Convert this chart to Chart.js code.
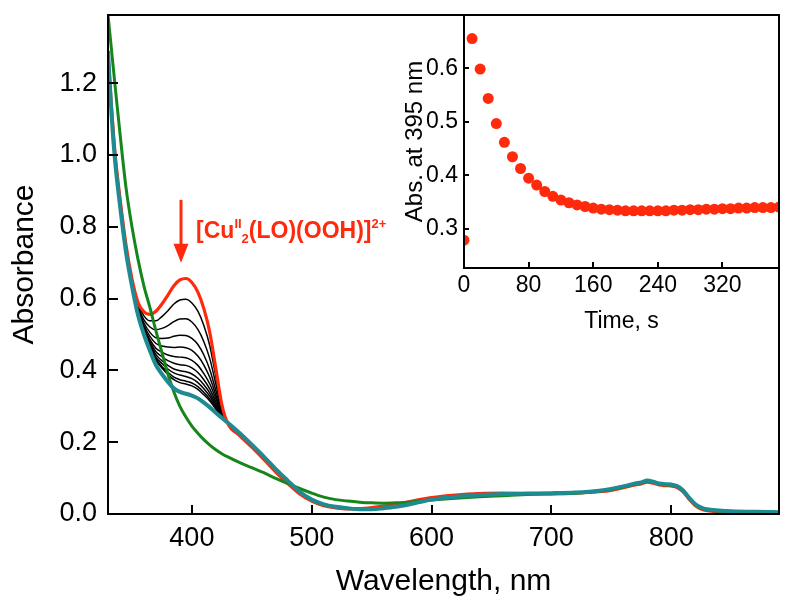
<!DOCTYPE html>
<html>
<head>
<meta charset="utf-8">
<script src="https://cdn.jsdelivr.net/npm/chart.js@4.4.1/dist/chart.umd.min.js"></script>
<style>
  body { margin: 0; background: #fff; }
  #wrap { position: relative; width: 795px; height: 612px; }
  #main { position: absolute; left: 0; top: 0; }
  #inset { position: absolute; left: 395px; top: 0; }
</style>
</head>
<body>
<div id="wrap">
  <canvas id="main" width="795" height="612"></canvas>
  <canvas id="inset" width="400" height="345"></canvas>
</div>
<script>
// wavelength grid (nm) shared by every spectrum
const wavelength = [330, 333, 336, 340, 345, 350,
  355, 360, 365, 370, 375, 380, 385, 390, 395, 400, 405, 410, 415, 420, 425, 430,
  440, 450, 460, 470, 480, 490, 500, 510, 520, 530, 540, 550, 560, 570, 580, 590, 600,
  620, 640, 660, 680, 700, 720, 740, 750, 760, 770, 775, 780, 785, 790, 795, 800, 805,
  810, 815, 820, 825, 830, 840, 850, 870, 890];

// red: [CuII2(LO)(OOH)]2+ at t = 10 s
const absInitial = [1.28, 1.13, 1.00, 0.88, 0.75, 0.655,
  0.59, 0.563, 0.556, 0.565, 0.585, 0.61, 0.636, 0.652, 0.656, 0.645, 0.618, 0.572, 0.505, 0.405, 0.305, 0.252,
  0.218, 0.186, 0.152, 0.117, 0.085, 0.056, 0.036, 0.023, 0.017, 0.014, 0.015, 0.018, 0.022, 0.027, 0.033, 0.04, 0.046,
  0.053, 0.057, 0.058, 0.057, 0.057, 0.058, 0.062, 0.066, 0.073, 0.081, 0.084, 0.089, 0.086, 0.081, 0.079, 0.078, 0.074,
  0.062, 0.041, 0.024, 0.014, 0.009, 0.006, 0.005, 0.004, 0.003];

// teal: final spectrum
const absFinal = [1.29, 1.11, 0.98, 0.86, 0.73, 0.635,
  0.555, 0.50, 0.455, 0.415, 0.39, 0.368, 0.35, 0.34, 0.335, 0.33, 0.322, 0.31, 0.297, 0.282, 0.268, 0.254,
  0.225, 0.193, 0.16, 0.125, 0.093, 0.062, 0.04, 0.027, 0.02, 0.016, 0.013, 0.013, 0.016, 0.02, 0.026, 0.033, 0.04,
  0.048, 0.053, 0.056, 0.057, 0.058, 0.06, 0.065, 0.07, 0.077, 0.085, 0.088, 0.093, 0.09, 0.085, 0.083, 0.082, 0.078,
  0.066, 0.045, 0.028, 0.018, 0.013, 0.01, 0.008, 0.006, 0.005];

// green trace
const absGreen = [1.39, 1.29, 1.19, 1.06, 0.91, 0.80,
  0.71, 0.635, 0.575, 0.51, 0.45, 0.39, 0.34, 0.30, 0.27, 0.245, 0.225, 0.207, 0.192, 0.179, 0.168, 0.159,
  0.143, 0.129, 0.115, 0.099, 0.085, 0.071, 0.058, 0.047, 0.04, 0.036, 0.033, 0.031, 0.03, 0.031, 0.033, 0.036, 0.039,
  0.044, 0.048, 0.051, 0.054, 0.056, 0.058, 0.063, 0.068, 0.075, 0.083, 0.086, 0.091, 0.088, 0.083, 0.081, 0.08, 0.076,
  0.064, 0.043, 0.026, 0.016, 0.011, 0.008, 0.006, 0.005, 0.004];

// black intermediate scans: they overlap below 355 nm and above 430 nm
const scanEdge = [1.285, 1.12, 0.99, 0.87, 0.74, 0.645];
const scanTail = [0.222, 0.19, 0.156, 0.121, 0.089, 0.059, 0.038, 0.025, 0.019, 0.016, 0.015, 0.016, 0.02, 0.025, 0.031, 0.038, 0.045,
  0.052, 0.057, 0.058, 0.058, 0.058, 0.059, 0.063, 0.068, 0.075, 0.083, 0.086, 0.091, 0.088, 0.083, 0.081, 0.080, 0.076,
  0.064, 0.043, 0.026, 0.016, 0.011, 0.008, 0.006, 0.005, 0.004];
// 355 ... 430 nm
const scan1 = [0.584, 0.552, 0.538, 0.538, 0.55, 0.566, 0.585, 0.596, 0.598, 0.588, 0.565, 0.525, 0.468, 0.383, 0.298, 0.253];
const scan2 = [0.578, 0.541, 0.521, 0.513, 0.517, 0.525, 0.536, 0.543, 0.544, 0.535, 0.514, 0.48, 0.432, 0.362, 0.292, 0.253];
const scan3 = [0.573, 0.532, 0.506, 0.491, 0.489, 0.49, 0.495, 0.498, 0.497, 0.489, 0.472, 0.443, 0.402, 0.344, 0.287, 0.253];
const scan4 = [0.569, 0.525, 0.495, 0.475, 0.468, 0.465, 0.464, 0.465, 0.463, 0.456, 0.44, 0.415, 0.38, 0.331, 0.283, 0.253];
const scan5 = [0.566, 0.52, 0.486, 0.462, 0.451, 0.443, 0.439, 0.437, 0.435, 0.428, 0.414, 0.391, 0.362, 0.321, 0.28, 0.253];
const scan6 = [0.564, 0.515, 0.48, 0.452, 0.438, 0.427, 0.42, 0.416, 0.414, 0.407, 0.394, 0.374, 0.348, 0.312, 0.277, 0.253];
const scan7 = [0.562, 0.512, 0.474, 0.444, 0.427, 0.414, 0.404, 0.399, 0.396, 0.39, 0.378, 0.36, 0.337, 0.305, 0.275, 0.253];
const scan8 = [0.56, 0.509, 0.47, 0.437, 0.419, 0.404, 0.393, 0.387, 0.383, 0.377, 0.366, 0.349, 0.328, 0.3, 0.274, 0.253];
const scan9 = [0.559, 0.507, 0.466, 0.432, 0.411, 0.395, 0.381, 0.374, 0.37, 0.365, 0.355, 0.339, 0.32, 0.296, 0.272, 0.253];
const scan10 = [0.558, 0.505, 0.464, 0.428, 0.407, 0.389, 0.374, 0.366, 0.362, 0.357, 0.347, 0.332, 0.315, 0.292, 0.271, 0.253];

const wavelengthTicks = [400, 500, 600, 700, 800];
const absTicks = [0, 0.2, 0.4, 0.6, 0.8, 1.0, 1.2];

// inset: absorbance at 395 nm vs time
const timeS = [0, 10, 20, 30, 40, 50, 60, 70, 80, 90, 100, 110, 120, 130, 140, 150, 160, 170, 180, 190,
  200, 210, 220, 230, 240, 250, 260, 270, 280, 290, 300, 310, 320, 330, 340, 350, 360, 370, 380, 390];
const abs395 = [0.279, 0.656, 0.599, 0.544, 0.497, 0.462, 0.435, 0.413, 0.395, 0.382, 0.370, 0.361, 0.354, 0.349, 0.345, 0.342, 0.339, 0.337, 0.336, 0.335,
  0.334, 0.334, 0.334, 0.334, 0.334, 0.334, 0.335, 0.335, 0.336, 0.336, 0.337, 0.337, 0.338, 0.338, 0.339, 0.339, 0.340, 0.340, 0.340, 0.341];
const timeTicks = [0, 80, 160, 240, 320];
const insetAbsTicks = [0.3, 0.4, 0.5, 0.6];

const RED = '#ff2a0c';
const TEAL = '#1e8a92';
const GREEN = '#17861a';
const FONT = "'Liberation Sans', Arial, sans-serif";

Chart.defaults.font.family = FONT;
Chart.defaults.color = '#000';

// box frame + inward tick marks
const frameTicks = {
  id: 'frameTicks',
  afterDraw(chart, args, o) {
    const { ctx, chartArea: a, scales: { x, y } } = chart;
    ctx.save();
    ctx.strokeStyle = '#000';
    ctx.lineWidth = 2;
    ctx.beginPath();
    x.ticks.forEach(t => {
      const p = Math.round(x.getPixelForValue(t.value));
      ctx.moveTo(p, a.bottom);
      ctx.lineTo(p, a.bottom - o.xLen);
    });
    y.ticks.forEach(t => {
      const p = Math.round(y.getPixelForValue(t.value));
      ctx.moveTo(a.left, p);
      ctx.lineTo(a.left + o.yLen, p);
    });
    ctx.stroke();
    ctx.strokeRect(a.left, a.top, a.right - a.left, a.bottom - a.top);
    ctx.restore();
  }
};

const whiteArea = {
  id: 'whiteArea',
  beforeDatasetsDraw(chart) {
    const { ctx, chartArea: a } = chart;
    ctx.save();
    ctx.fillStyle = '#fff';
    ctx.fillRect(a.left, a.top, a.right - a.left, a.bottom - a.top);
    ctx.restore();
  }
};

// keep the plot box where it is: no label overhang padding
const fixWidth = w => s => { s.width = w; s.paddingTop = 0; s.paddingBottom = 0; };
const fixHeight = h => s => { s.height = h; s.paddingLeft = 0; s.paddingRight = 0; };

// red arrow and complex label, placed in data coordinates
const labelParts = [['[Cu', 'n'], ['II', 'sup'], ['2', 'sub'], ['(LO)(OOH)]', 'n'], ['2+', 'sup']];
const arrowLabel = {
  id: 'arrowLabel',
  afterDatasetsDraw(chart) {
    const { ctx, scales: { x, y } } = chart;
    const ax = Math.round(x.getPixelForValue(391));
    const yTop = y.getPixelForValue(0.875);
    const yTip = y.getPixelForValue(0.70);
    ctx.save();
    ctx.strokeStyle = RED;
    ctx.fillStyle = RED;
    ctx.lineWidth = 3;
    ctx.beginPath();
    ctx.moveTo(ax, yTop);
    ctx.lineTo(ax, yTip - 14);
    ctx.stroke();
    ctx.beginPath();
    ctx.moveTo(ax - 7.5, yTip - 19);
    ctx.lineTo(ax + 7.5, yTip - 19);
    ctx.lineTo(ax, yTip);
    ctx.closePath();
    ctx.fill();

    let tx = x.getPixelForValue(403.5);
    const base = y.getPixelForValue(0.77);
    ctx.textAlign = 'left';
    ctx.textBaseline = 'alphabetic';
    labelParts.forEach(([txt, kind]) => {
      ctx.font = kind === 'n' ? 'bold 23px ' + FONT : 'bold 13px ' + FONT;
      const dy = kind === 'sup' ? -10 : (kind === 'sub' ? 5 : 0);
      ctx.fillText(txt, tx, base + dy);
      tx += ctx.measureText(txt).width;
    });
    ctx.restore();
  }
};

const pts = vals => wavelength.map((w, i) => ({ x: w, y: vals[i] }));
const scans = [scan1, scan2, scan3, scan4, scan5, scan6, scan7, scan8, scan9, scan10]
  .map(m => scanEdge.concat(m, scanTail));

new Chart(document.getElementById('main'), {
  type: 'line',
  data: {
    datasets: [
      { data: pts(absFinal), borderColor: TEAL, borderWidth: 4 },
      { data: pts(absGreen), borderColor: GREEN, borderWidth: 3 },
      { data: pts(absInitial), borderColor: RED, borderWidth: 3.2 }
    ].concat(scans.map(s => ({ data: pts(s), borderColor: '#000', borderWidth: 1.5 })))
  },
  options: {
    responsive: false,
    animation: false,
    layout: { padding: { top: 15, right: 16, left: 0, bottom: 0 } },
    elements: {
      point: { radius: 0 },
      line: { cubicInterpolationMode: 'monotone', borderJoinStyle: 'round', fill: false }
    },
    plugins: {
      legend: { display: false },
      tooltip: { enabled: false },
      frameTicks: { xLen: 9, yLen: 10 }
    },
    scales: {
      x: {
        type: 'linear', min: 330, max: 890,
        afterBuildTicks: s => { s.ticks = wavelengthTicks.map(v => ({ value: v })); },
        afterFit: fixHeight(98),
        grid: { display: false, drawTicks: false },
        border: { display: false },
        ticks: { font: { size: 27 }, padding: 8, maxRotation: 0 },
        title: { display: true, text: 'Wavelength, nm', font: { size: 30 }, padding: { top: 0, bottom: 12 } }
      },
      y: {
        min: 0, max: 1.39,
        afterBuildTicks: s => { s.ticks = absTicks.map(v => ({ value: v })); },
        afterFit: fixWidth(108),
        grid: { display: false, drawTicks: false },
        border: { display: false },
        ticks: { font: { size: 27 }, padding: 11, callback: v => v.toFixed(1) },
        title: { display: true, text: 'Absorbance', font: { size: 30 }, padding: { top: 7, bottom: 0 } }
      }
    }
  },
  plugins: [frameTicks, arrowLabel]
});

new Chart(document.getElementById('inset'), {
  type: 'scatter',
  data: {
    datasets: [{
      data: timeS.map((t, i) => ({ x: t, y: abs395[i] })),
      pointBackgroundColor: RED,
      pointBorderWidth: 0,
      pointRadius: 5.5,
      clip: 0
    }]
  },
  options: {
    responsive: false,
    animation: false,
    layout: { padding: { top: 15, right: 16, left: 0, bottom: 0 } },
    plugins: {
      legend: { display: false },
      tooltip: { enabled: false },
      frameTicks: { xLen: 6, yLen: 5 }
    },
    scales: {
      x: {
        type: 'linear', min: 0, max: 390,
        afterBuildTicks: s => { s.ticks = timeTicks.map(v => ({ value: v })); },
        afterFit: fixHeight(77),
        grid: { display: false, drawTicks: false },
        border: { display: false },
        ticks: { font: { size: 23 }, padding: 4, maxRotation: 0 },
        title: { display: true, text: 'Time, s', font: { size: 23 }, padding: { top: 0, bottom: 10 } }
      },
      y: {
        min: 0.227, max: 0.70,
        afterBuildTicks: s => { s.ticks = insetAbsTicks.map(v => ({ value: v })); },
        afterFit: fixWidth(69),
        grid: { display: false, drawTicks: false },
        border: { display: false },
        ticks: { font: { size: 23 }, padding: 6, callback: v => v.toFixed(1) },
        title: { display: true, text: 'Abs. at 395 nm', font: { size: 24 }, padding: { top: 6, bottom: 0 } }
      }
    }
  },
  plugins: [whiteArea, frameTicks]
});
</script>
</body>
</html>
